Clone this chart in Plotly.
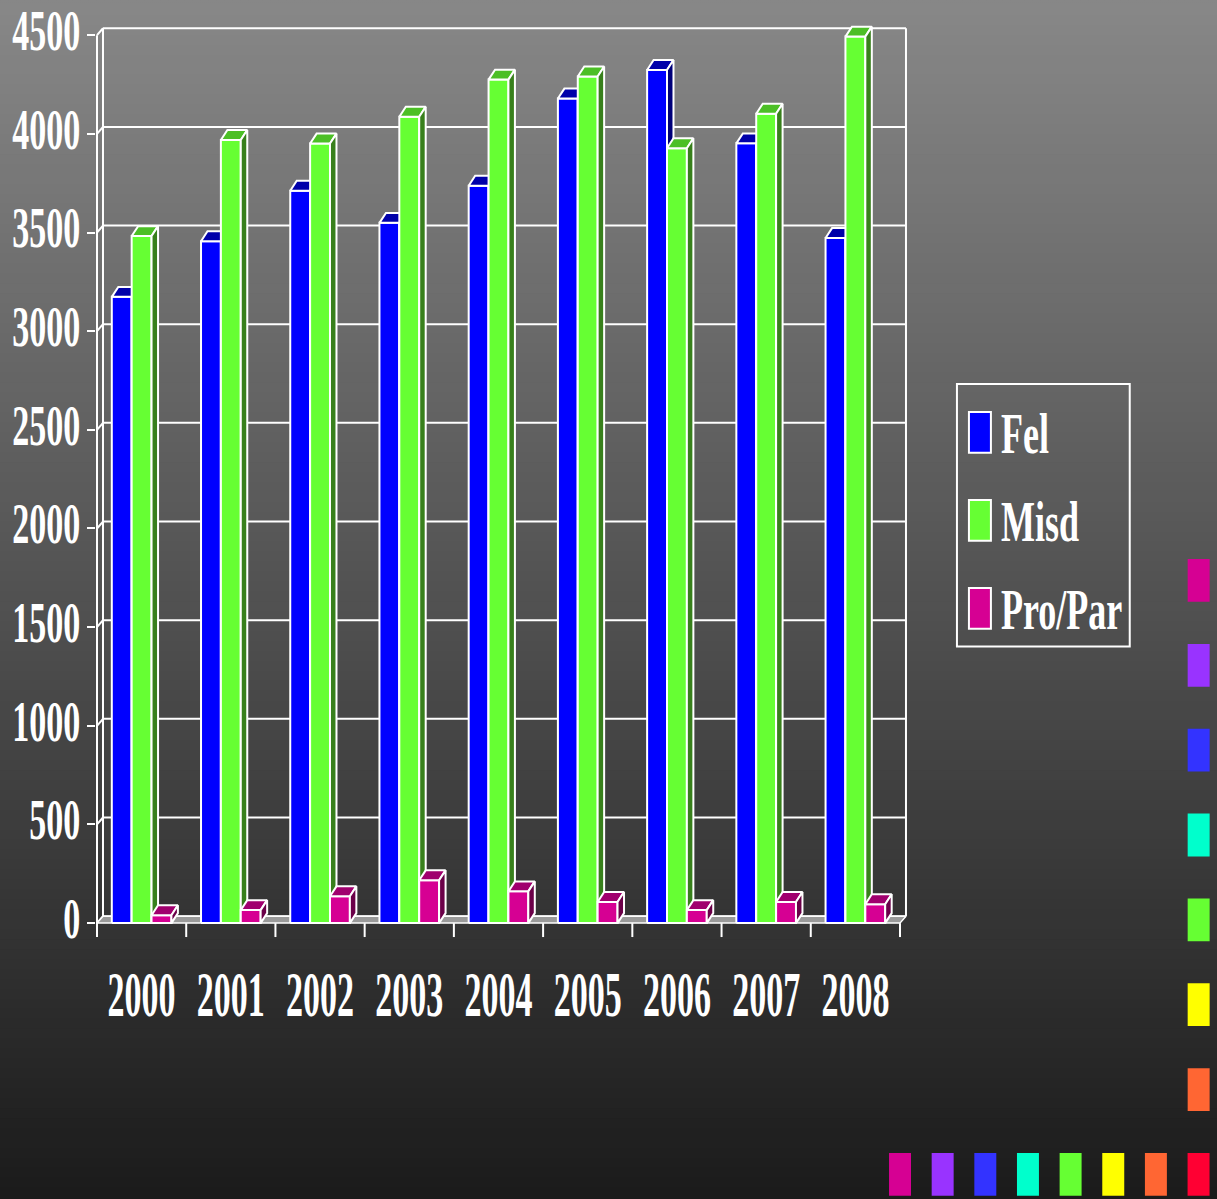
import plotly.graph_objects as go

# data
years = ['2000', '2001', '2002', '2003', '2004', '2005', '2006', '2007', '2008']
fel = [3174, 3456, 3712, 3549, 3737, 4179, 4324, 3952, 3472]
misd = [3482, 3969, 3951, 4087, 4275, 4291, 3927, 4102, 4493]
pro_par = [40, 66, 136, 217, 161, 107, 66, 107, 96]
y_ticks = [0, 500, 1000, 1500, 2000, 2500, 3000, 3500, 4000, 4500]

# name, values, front / top / side colours
series = [
    ('Fel', fel, '#0000FF', '#0000AA', '#00007A'),
    ('Misd', misd, '#66FF33', '#4CBF26', '#38801C'),
    ('Pro/Par', pro_par, '#D60093', '#A0006E', '#6B0049'),
]
deco_col = ['#D60093', '#9933FF', '#3333FF', '#00FFCC', '#66FF33', '#FFFF00', '#FF6633']
deco_row = ['#D60093', '#9933FF', '#3333FF', '#00FFCC', '#66FF33', '#FFFF00', '#FF6633', '#FF0033']

W, H = 1217, 1199
# plot area in pixels
PL, PR, PT, PB = 95, 915, 15, 945
# front plane: x=0 at 96px, one category = 89.33px; y=0 at 923px
X0, CAT = 96, 89.33
Y0, PXU = 923, 0.19838

ncat = len(years)
dxw, dyw = 6 / CAT, 7 / PXU      # wall depth
dxb, dyb = 6.5 / CAT, 10 / PXU   # bar depth
bw = 19.9 / CAT
tick_len = 14 / PXU


def px_x(px):
    return (px - PL) / (PR - PL)


def px_y(py):
    return (PB - py) / (PB - PT)


def polys(shapes_):
    xs, ys = [], []
    for poly in shapes_:
        for a, b in poly + [poly[0]]:
            xs.append(a)
            ys.append(b)
        xs.append(None)
        ys.append(None)
    return xs, ys


def segs(lines):
    xs, ys = [], []
    for (a, b), (c, d) in lines:
        xs += [a, c, None]
        ys += [b, d, None]
    return xs, ys


fig = go.Figure()

def add_poly(pl, fill, lw=2):
    xs, ys = polys(pl)
    fig.add_trace(go.Scatter(x=xs, y=ys, mode='lines', fill='toself', fillcolor=fill,
                             line=dict(color='white', width=lw), hoverinfo='skip',
                             showlegend=False))

def add_lines(ln, lw=2):
    xs, ys = segs(ln)
    fig.add_trace(go.Scatter(x=xs, y=ys, mode='lines', line=dict(color='white', width=lw),
                             hoverinfo='skip', showlegend=False))

top = y_ticks[-1]
# walls and grid
grid = [((dxw, v + dyw), (ncat + dxw, v + dyw)) for v in y_ticks]
grid += [((dxw, dyw), (dxw, top + dyw)), ((ncat + dxw, dyw), (ncat + dxw, top + dyw))]
grid += [((0, v), (dxw, v + dyw)) for v in y_ticks]
grid += [((0, 0), (0, top))]
grid += [((k, 0), (k, -tick_len)) for k in range(ncat + 1)]
add_lines(grid)

# floor
add_poly([[(0, 0), (ncat, 0), (ncat + dxw, dyw), (dxw, dyw)]], '#9a9a9a', 1.5)

# bars
for s, (name, vals, c_front, c_top, c_side) in enumerate(series):
    fronts, tops, sides = [], [], []
    for i, v in enumerate(vals):
        x0 = i + 0.5 - 1.5 * bw + s * bw
        x1 = x0 + bw
        fronts.append([(x0, 0), (x1, 0), (x1, v), (x0, v)])
        tops.append([(x0, v), (x1, v), (x1 + dxb, v + dyb), (x0 + dxb, v + dyb)])
        sides.append([(x1, 0), (x1 + dxb, dyb), (x1 + dxb, v + dyb), (x1, v)])
    add_poly(fronts, c_front)
    add_poly(tops, c_top)
    add_poly(sides, c_side)

serif = 'Liberation Serif, Times New Roman, serif'
shapes = []
# background gradient
n = 120
for k in range(n):
    g = round(135 - (135 - 27) * k / (n - 1))
    shapes.append(dict(type='rect', xref='paper', yref='paper', layer='below',
                       x0=px_x(-2), x1=px_x(W + 2), y0=px_y(k * H / n - (2 if k == 0 else 0)),
                       y1=px_y((k + 1) * H / n + 1),
                       fillcolor='rgb(%d,%d,%d)' % (g, g, g), line=dict(width=0)))

# legend
shapes.append(dict(type='rect', xref='paper', yref='paper', x0=px_x(957), x1=px_x(1130),
                   y0=px_y(381), y1=px_y(645), line=dict(color='white', width=2)))
annotations = []
for j, (name, vals, c_front, c_top, c_side) in enumerate(series):
    yt = 409 + j * 88.5
    shapes.append(dict(type='rect', xref='paper', yref='paper', x0=px_x(969), x1=px_x(991),
                       y0=px_y(yt), y1=px_y(yt + 41), fillcolor=c_front,
                       line=dict(color='white', width=2)))
    annotations.append(dict(xref='paper', yref='paper', x=px_x(999), y=px_y(yt + 22),
                            xanchor='left', yanchor='middle', text=name, showarrow=False,
                            font=dict(family=serif, size=36, color='white', weight='bold')))

# decorative squares
for j, c in enumerate(deco_col):
    y0 = 557 + j * 85.3
    shapes.append(dict(type='rect', xref='paper', yref='paper', x0=px_x(1188), x1=px_x(1210),
                       y0=px_y(y0), y1=px_y(y0 + 43), fillcolor=c, line=dict(width=0)))
for j, c in enumerate(deco_row):
    x0 = 889 + j * 42.7
    shapes.append(dict(type='rect', xref='paper', yref='paper', x0=px_x(x0), x1=px_x(x0 + 22),
                       y0=px_y(1154), y1=px_y(1197), fillcolor=c, line=dict(width=0)))

tick_font = dict(family=serif, size=34, color='white', weight='bold')
fig.update_layout(
    width=W, height=H,
    margin=dict(l=PL, r=W - PR, t=PT, b=H - PB, pad=0),
    paper_bgcolor='rgba(0,0,0,0)', plot_bgcolor='rgba(0,0,0,0)',
    shapes=shapes, annotations=annotations, showlegend=False, hovermode=False,
    xaxis=dict(range=[(PL - X0) / CAT, (PR - X0) / CAT], showgrid=False, zeroline=False,
               showline=False, tickmode='array', tickvals=[i + 0.5 for i in range(ncat)],
               ticktext=years, ticks='', tickfont=tick_font, ticklabelstandoff=26),
    yaxis=dict(range=[(Y0 - PB) / PXU, (Y0 - PT) / PXU], showgrid=False, zeroline=False,
               showline=False, tickmode='array', tickvals=y_ticks, ticks='outside',
               ticklen=8, tickwidth=2, tickcolor='white', tickfont=tick_font,
               ticklabelshift=-5),
)

# the original lettering is tall and narrow: stretch the text vertically about its centre
post = """
document.documentElement.style.background = 'linear-gradient(rgb(135,135,135), rgb(27,27,27))';
document.documentElement.style.minHeight = '100%';
document.body.style.margin = '0';
var gd = document.getElementById('{plot_id}');
function stretch(sel, k) {
  gd.querySelectorAll(sel).forEach(function (t) {
    var b = t.getBBox();
    var cy = b.y + b.height / 2;
    var old = t.getAttribute('transform') || '';
    t.setAttribute('transform', old + ' translate(0,' + cy + ') scale(1,' + k + ') translate(0,' + (-cy) + ')');
  });
}
stretch('.xtick text', 1.85);
stretch('.ytick text', 1.7);
stretch('.annotation-text', 1.6);
"""

fig.write_html("out.html", post_script=post, config={'displayModeBar': False})
